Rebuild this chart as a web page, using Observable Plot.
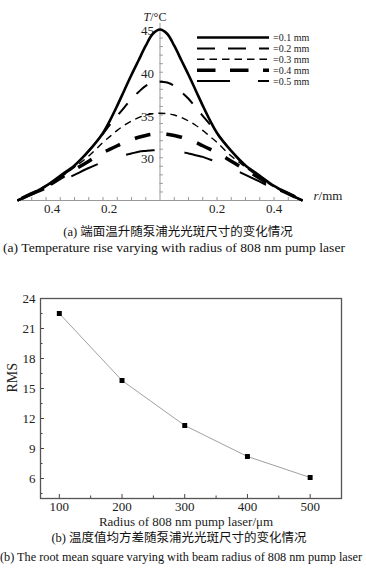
<!DOCTYPE html>
<html><head><meta charset="utf-8">
<script src="https://cdn.jsdelivr.net/npm/d3@7"></script>
<script src="https://cdn.jsdelivr.net/npm/@observablehq/plot@0.6"></script>
<style>
body{margin:0;background:#fff;}
#wrap{position:relative;width:366px;height:582px;overflow:hidden;background:#fff;font-family:"Liberation Serif","Times New Roman","Noto Sans CJK SC",serif;color:#111;}
#wrap svg{position:absolute;left:0;}
.cap{position:absolute;white-space:nowrap;line-height:1;transform:translateX(-50%);}
</style></head><body><div id="wrap"></div>
<script>
// ---------- data: chart (a) ----------
const rPos = [-0.5,-0.45,-0.4,-0.35,-0.3,-0.25,-0.2,-0.175,-0.15,-0.125,-0.1,-0.075,-0.05,-0.025,0,0.025,0.05,0.075,0.1,0.125,0.15,0.175,0.2,0.25,0.3,0.35,0.4,0.45,0.5];
const T01 = [25.0,25.8,26.7,27.9,29.1,30.8,32.9,34.4,36.1,37.9,39.7,41.4,43.1,44.5,45.0,44.5,43.1,41.4,39.7,37.9,36.1,34.4,32.9,30.8,29.1,27.9,26.7,25.8,25.0];
const T02 = [25.0,25.8,26.7,27.8,29.0,30.8,32.8,33.9,34.9,35.9,36.9,37.7,38.4,38.8,38.9,38.8,38.4,37.7,36.9,35.9,34.9,33.9,32.8,30.8,29.0,27.8,26.7,25.8,25.0];
const T03 = [25.0,25.8,26.6,27.7,28.9,30.2,31.8,32.5,33.2,33.8,34.3,34.7,35.0,35.15,35.2,35.15,35.0,34.7,34.3,33.8,33.2,32.5,31.8,30.2,28.9,27.7,26.6,25.8,25.0];
const T04 = [25.0,25.8,26.6,27.6,28.6,29.6,30.6,31.0,31.4,31.8,32.1,32.4,32.6,32.75,32.8,32.75,32.6,32.4,32.1,31.8,31.4,31.0,30.6,29.6,28.6,27.6,26.6,25.8,25.0];
const T05 = [25.0,25.7,26.4,27.2,28.0,28.8,29.5,29.8,30.1,30.3,30.5,30.7,30.8,30.88,30.9,30.88,30.8,30.7,30.5,30.3,30.1,29.8,29.5,28.8,28.0,27.2,26.4,25.7,25.0];
const seriesNames = ["=0.1 mm","=0.2 mm","=0.3 mm","=0.4 mm","=0.5 mm"];
const xTickA = [-0.4,-0.2,0.2,0.4];
const xMinorA = [-0.45,-0.4,-0.35,-0.3,-0.25,-0.2,-0.15,-0.1,-0.05,0.05,0.1,0.15,0.2,0.25,0.3,0.35,0.4,0.45];
const yTickA = [30,35,40,45];
const yMinorA = [26,27,28,29,30,31,32,33,34,35,36,37,38,39,40,41,42,43,44,45];

// ---------- data: chart (b) ----------
const radius = [100,200,300,400,500];
const rms = [22.5,15.8,11.3,8.2,6.1];
const xTickB = [100,200,300,400,500];
const xMinorB = [150,250,350,450];
const yTickB = [6,9,12,15,18,21,24];
const yMinorB = [4.5,7.5,10.5,13.5,16.5,19.5,22.5];

// ---------- styles ----------
const Tser = [T01,T02,T03,T04,T05];
const styles = [
  {w:2.6, d:null, o:0, ld:null},
  {w:2.0, d:"14,13", o:0, ld:"18,13"},
  {w:1.4, d:"7,5", o:0, ld:"7.5,5"},
  {w:3.5, d:"16,16", o:27, ld:"18.5,14.5"},
  {w:2.0, d:"29,30", o:0, ld:"33,28"}
];
const FONT = '"Liberation Serif","Times New Roman",serif';
const wrap = document.getElementById("wrap");

// ---------- chart (a) ----------
const WA=366, HA=222, mtA=23, mbA=22, mlA=17, mrA=64;
const plotHA = HA - mtA - mbA;
const lineMarks = Tser.map((T,k) => Plot.line(rPos.map((r,i)=>({r, t:T[i]})), {
  x:"r", y:"t", stroke:"#000", strokeWidth:styles[k].w,
  strokeDasharray: styles[k].d || undefined, strokeDashoffset: styles[k].o,
  curve:"catmull-rom", strokeLinecap:"butt"
}));
const chartA = Plot.plot({
  width:WA, height:HA, marginTop:mtA, marginBottom:mbA, marginLeft:mlA, marginRight:mrA,
  x:{domain:[-0.5,0.5], axis:null},
  y:{domain:[25,45.7], axis:null},
  style:{fontFamily:FONT, fontSize:"13px", color:"#111", background:"transparent"},
  marks:[
    Plot.ruleY([25], {stroke:"#999", strokeWidth:1}),
    Plot.ruleX([0], {stroke:"#999", strokeWidth:1}),
    Plot.tickX(xMinorA, {x:d=>d, stroke:"#999", insetTop:plotHA-3}),
    Plot.ruleY(yMinorA, {y:d=>d, x1:0, x2:0.012, stroke:"#999"}),
    Plot.text(yTickA, {x:0, y:d=>d, text:d=>String(d), textAnchor:"end", dx:-6, dy:1.5, fill:"#222", fontSize:13}),
    ...lineMarks,
    Plot.text(xTickA.filter(d=>d<0), {x:d=>d, text:d=>String(Math.abs(d)), frameAnchor:"bottom", dy:12, dx:6, fill:"#222"}),
    Plot.text(xTickA.filter(d=>d>0), {x:d=>d, text:d=>String(d), frameAnchor:"bottom", dy:12, fill:"#222"}),
    Plot.text(["T/°C"], {x:0, frameAnchor:"top", dy:-11, dx:-5, fill:"#222", fontSize:12}),
    Plot.text(["r/mm"], {frameAnchor:"bottom-right", textAnchor:"start", dx:11, dy:-1, fill:"#222", fontSize:13})
  ]
});
chartA.style.top = "0px";
wrap.appendChild(chartA);
d3.select(chartA).selectAll("text").each(function(){
  if (this.textContent === "T/°C") this.innerHTML = '<tspan font-style="italic">T</tspan>/°C';
  if (this.textContent === "r/mm") this.innerHTML = '<tspan font-style="italic">r</tspan>/mm';
});
// legend
const lg = d3.select(chartA).append("g").attr("text-anchor","start");
styles.forEach((s,k) => {
  const y = 37.5 + k*10.9;
  const ln = lg.append("line").attr("x1",197).attr("x2",269).attr("y1",y).attr("y2",y)
    .attr("stroke","#000").attr("stroke-width",s.w);
  if (s.ld) ln.attr("stroke-dasharray", s.ld);
  lg.append("text").attr("x",273).attr("y",y).attr("dy","0.35em").attr("text-anchor","start")
    .attr("font-family",FONT).attr("font-size",10).attr("fill","#222").text(seriesNames[k]);
});

// ---------- chart (b) ----------
const WB=366, HB=250, mtB=18, mbB=32, mlB=40, mrB=25;
const plotWB = WB - mlB - mrB, plotHB = HB - mtB - mbB;
const dataB = radius.map((x,i)=>({x, y:rms[i]}));
const chartB = Plot.plot({
  width:WB, height:HB, marginTop:mtB, marginBottom:mbB, marginLeft:mlB, marginRight:mrB,
  x:{domain:[70,550]},
  y:{domain:[4,24]},
  style:{fontFamily:FONT, fontSize:"13px", color:"#111", background:"transparent"},
  marks:[
    Plot.tickY(yTickB, {y:d=>d, stroke:"#444", insetRight:plotWB-4}),
    Plot.tickY(yMinorB, {y:d=>d, stroke:"#444", insetRight:plotWB-2.5}),
    Plot.tickX(xTickB, {x:d=>d, stroke:"#444", insetTop:plotHB-4}),
    Plot.tickX(xMinorB, {x:d=>d, stroke:"#444", insetTop:plotHB-2.5}),
    Plot.frame({stroke:"#555", strokeWidth:1.3}),
    Plot.axisX(xTickB, {tickSize:0, tickPadding:3, label:null, fill:"#222"}),
    Plot.axisY(yTickB, {tickSize:0, tickPadding:5, label:null, fill:"#222"}),
    Plot.line(dataB, {x:"x", y:"y", stroke:"#888", strokeWidth:0.8}),
    Plot.dot(dataB, {x:"x", y:"y", symbol:"square", r:2.8, fill:"#000", stroke:"none"}),
    Plot.text(["RMS"], {frameAnchor:"left", dx:-28, dy:-6, rotate:-90, fontSize:14, fill:"#222"}),
    Plot.text(["Radius of 808 nm pump laser/μm"], {frameAnchor:"bottom", dy:27, dx:-5, fontSize:13, fill:"#222"})
  ]
});
chartB.style.top = "280px";
wrap.appendChild(chartB);

// ---------- captions ----------
function cap(text, cx, top, size, target){
  const d = document.createElement("div");
  d.className = "cap"; d.textContent = text;
  d.style.left = cx + "px"; d.style.top = top + "px"; d.style.fontSize = size + "px";
  wrap.appendChild(d);
  if (target){
    const w = d.getBoundingClientRect().width;
    d.style.transform = `translateX(-50%) scaleX(${target/w})`;
  }
}
cap("(a) 端面温升随泵浦光光斑尺寸的变化情况", 178, 225.5, 12.5);
cap("(a) Temperature rise varying with radius of 808 nm pump laser", 174, 240.5, 13, 342);
cap("(b) 温度值均方差随泵浦光光斑尺寸的变化情况", 179, 532, 12.5);
cap("(b) The root mean square varying with beam radius of 808 nm pump laser", 181, 551, 12.5, 362);
</script></body></html>
